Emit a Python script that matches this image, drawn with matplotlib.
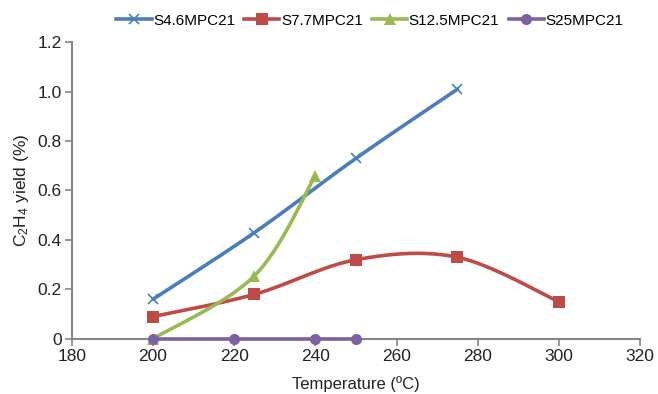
import matplotlib
matplotlib.use("Agg")
import matplotlib.pyplot as plt
import numpy as np
from matplotlib.ticker import FuncFormatter, MultipleLocator

plt.rcParams['font.family'] = ['Liberation Sans', 'DejaVu Sans']
plt.rcParams['mathtext.fontset'] = 'custom'
plt.rcParams['mathtext.rm'] = 'Liberation Sans'
plt.rcParams['mathtext.it'] = 'Liberation Sans'

# --- Data ---
temp_s46 = [200, 225, 250, 275]
yield_s46 = [0.16, 0.43, 0.73, 1.01]

temp_s77 = [200, 225, 250, 275, 300]
yield_s77 = [0.09, 0.18, 0.32, 0.33, 0.15]

temp_s125 = [200, 225, 240]
yield_s125 = [0.0, 0.255, 0.66]

temp_s25 = [200, 220, 240, 250]
yield_s25 = [0.0, 0.0, 0.0, 0.0]

series = [
    ("S4.6MPC21", temp_s46, yield_s46, "#4A7EBB", "x", 7),
    ("S7.7MPC21", temp_s77, yield_s77, "#BE4B48", "s", 8),
    ("S12.5MPC21", temp_s125, yield_s125, "#98B954", "^", 8),
    ("S25MPC21", temp_s25, yield_s25, "#7D60A0", "o", 8),
]


# Excel-like smoothed line (Catmull-Rom style bezier through the points)
def smooth(x, y, n=40):
    x = np.asarray(x, float)
    y = np.asarray(y, float)
    pts = np.column_stack([x, y])
    out = [pts[0]]
    for i in range(len(pts) - 1):
        p0 = pts[i - 1] if i > 0 else pts[i]
        p1 = pts[i]
        p2 = pts[i + 1]
        p3 = pts[i + 2] if i + 2 < len(pts) else pts[i + 1]
        c1 = p1 + (p2 - p0) / 6
        c2 = p2 - (p3 - p1) / 6
        t = np.linspace(0, 1, n)[1:, None]
        seg = ((1 - t) ** 3) * p1 + 3 * ((1 - t) ** 2) * t * c1 + 3 * (1 - t) * t ** 2 * c2 + t ** 3 * p2
        out.extend(seg)
    out = np.array(out)
    return out[:, 0], out[:, 1]


fig = plt.figure(figsize=(6.58, 3.94), dpi=100)
ax = fig.add_axes([0.109, 0.14, 0.864, 0.753])

for name, xs, ys, col, mk, ms in series:
    sx, sy = smooth(xs, ys)
    ax.plot(sx, sy, '-', color=col, linewidth=2.6, solid_capstyle='round', zorder=3, clip_on=False)
    if mk == "x":
        ax.plot(xs, ys, mk, color=col, markersize=ms, markeredgewidth=1.2, zorder=4, clip_on=False)
    else:
        ax.plot(xs, ys, mk, color=col, markersize=ms, markeredgewidth=0, zorder=4, clip_on=False)
    # legend proxy
    ax.plot([], [], '-', color=col, linewidth=2.6, marker=mk, markersize=ms,
            markeredgewidth=1.2 if mk == "x" else 0, label=name)

ax.set_xlim(180, 320)
ax.set_ylim(0, 1.2)
ax.xaxis.set_major_locator(MultipleLocator(20))
ax.yaxis.set_major_locator(MultipleLocator(0.2))
ax.yaxis.set_major_formatter(FuncFormatter(lambda v, p: "0" if abs(v) < 1e-9 else f"{v:.1f}"))

for s in ["top", "right"]:
    ax.spines[s].set_visible(False)
for s in ["left", "bottom"]:
    ax.spines[s].set_color("#868686")
    ax.spines[s].set_linewidth(1.5)
    ax.spines[s].set_zorder(2)
ax.tick_params(axis='both', direction='out', length=5, width=1.2, color="#868686",
               labelsize=12.5, labelcolor="#222222", pad=2)

ax.set_xlabel("Temperature (ºC)", fontsize=12, color="#222222", labelpad=9)
ax.set_ylabel(r"C$_2$H$_4$ yield (%)", fontsize=12.5, color="#222222", labelpad=5)

fig.legend(loc="upper center", bbox_to_anchor=(0.562, 1.0), ncol=4, frameon=False,
           fontsize=11, handlelength=2.3, columnspacing=0.6, handletextpad=0.1)

plt.savefig("out.png", dpi=100)
